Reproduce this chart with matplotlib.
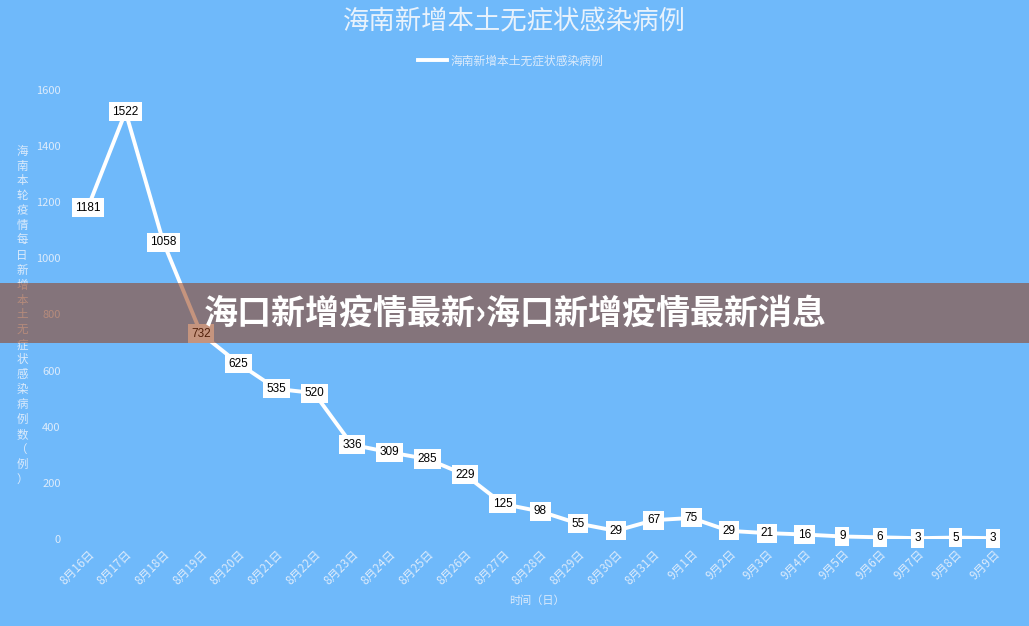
import matplotlib
matplotlib.use("Agg")
import matplotlib.pyplot as plt
from matplotlib.patches import Rectangle
import matplotlib.transforms as mtransforms

plt.rcParams['font.family'] = ['Noto Sans CJK SC', 'DejaVu Sans']

# data
dates = ['8月16日', '8月17日', '8月18日', '8月19日', '8月20日', '8月21日', '8月22日',
         '8月23日', '8月24日', '8月25日', '8月26日', '8月27日', '8月28日', '8月29日',
         '8月30日', '8月31日', '9月1日', '9月2日', '9月3日', '9月4日', '9月5日',
         '9月6日', '9月7日', '9月8日', '9月9日']
cases = [1181, 1522, 1058, 732, 625, 535, 520, 336, 309, 285, 229, 125, 98, 55,
         29, 67, 75, 29, 21, 16, 9, 6, 3, 5, 3]
yticks = [0, 200, 400, 600, 800, 1000, 1200, 1400, 1600]

title = '海南新增本土无症状感染病例'
ylabel = '海南本轮疫情每日新增本土无症状感染病例数（例）'
xlabel = '时间（日）'
banner = '海口新增疫情最新›海口新增疫情最新消息'

bg = '#6fb9fa'
txt = '#dcebfb'

W, H = 1029, 626
fig = plt.figure(figsize=(W / 100, H / 100), dpi=100, facecolor=bg)
ax = fig.add_axes([69 / W, 1 - 539 / H, 943 / W, 449 / H], facecolor=bg)

x = list(range(len(dates)))
ax.plot(x, cases, color='white', lw=2.8, solid_joinstyle='miter', label=title, zorder=2)
for xi, v in zip(x, cases):
    ax.text(xi, v, str(v), ha='center', va='center', fontsize=8.5, color='black',
            family=['Liberation Sans', 'DejaVu Sans'], zorder=3,
            bbox=dict(boxstyle='square,pad=0.3', fc='white', ec='none'))

ax.set_xlim(-0.5, len(dates) - 0.5)
ax.set_ylim(0, 1600)
ax.set_yticks(yticks)
ax.set_yticklabels([str(t) for t in yticks], fontsize=8, color=txt)
ax.set_xticks(x)
ax.set_xticklabels(dates, rotation=45, ha='right', rotation_mode='anchor',
                   fontsize=8.5, color=txt)
off = mtransforms.ScaledTranslation(11 / 72, -1 / 72, fig.dpi_scale_trans)
for lab in ax.get_xticklabels():
    lab.set_transform(lab.get_transform() + off)
ax.tick_params(length=0, pad=6)
for s in ax.spines.values():
    s.set_visible(False)

fig.text(537 / W, 1 - 601 / H, xlabel, ha='center', va='center', fontsize=8, color=txt)

# vertical stacked y label, one character per row
step = 14.9
top = 315 - step * (len(ylabel) - 1) / 2
for i, ch in enumerate(ylabel):
    fig.text(22 / W, 1 - (top + i * step) / H, ch, ha='center', va='center',
             fontsize=8.3, color=txt)

fig.text(514 / W, 1 - 22 / H, title, ha='center', va='center', fontsize=19,
         color='#e8f2fc', fontweight='light')
fig.legend(loc='center', bbox_to_anchor=(511 / W, 1 - 61 / H), frameon=False,
           fontsize=8.5, labelcolor=txt, handlelength=2.4, handletextpad=0.35)

# overlay banner
fig.add_artist(Rectangle((0, 1 - 343 / H), 1, 60 / H, transform=fig.transFigure,
                         fc='#963c14', alpha=0.55, ec='none', zorder=5))
fig.text(515 / W, 1 - 313 / H, banner, ha='center', va='center', fontsize=24.5,
         color='white', fontweight='bold', zorder=6,
         family=['Noto Sans CJK SC', 'DejaVu Sans'])

fig.savefig('out.png', dpi=100, facecolor=bg)
